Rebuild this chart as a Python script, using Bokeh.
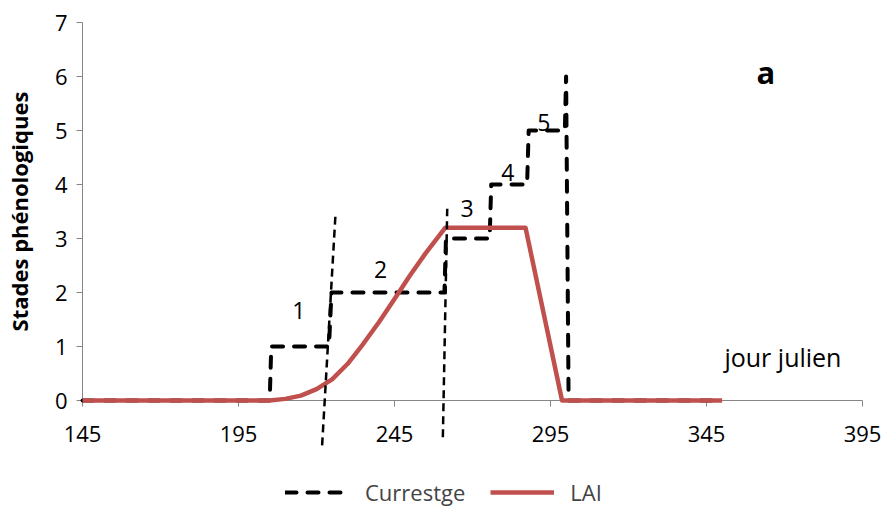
import math
from bokeh.plotting import figure
from bokeh.models import Range1d, Legend, LegendItem, Arrow, FixedTicker, ColumnDataSource
from bokeh.core.properties import value
from bokeh.embed import file_html
from bokeh.resources import INLINE

# ---- data ----
# Currestge (phenological stage, dashed black)
stage_day = [145, 205, 205.5, 224, 224.8, 261, 261.5, 275.5, 276, 287.5, 288, 299.6, 300, 300.8, 350]
stage_val = [0, 0, 1, 1, 2, 2, 3, 3, 4, 4, 5, 5, 6, 0, 0]

# LAI (red)
lai_day = [145, 205, 210, 215, 220, 225, 230, 235, 240, 245, 250, 255, 261.3, 287, 298.7, 350]
lai_val = [0, 0, 0.03, 0.09, 0.21, 0.39, 0.68, 1.05, 1.45, 1.88, 2.32, 2.73, 3.2, 3.2, 0, 0]

# two thin dashed separator lines (start / end points)
sep_x0 = [221.8, 260.5]
sep_y0 = [-0.83, -0.68]
sep_x1 = [226.1, 261.9]
sep_y1 = [3.46, 3.55]

# stage number annotations
num_x = [214.3, 240.5, 268.3, 281.3, 292.9]
num_y = [1.67, 2.42, 3.55, 4.23, 5.15]
num_text = ["1", "2", "3", "4", "5"]

x_ticks = [145, 195, 245, 295, 345, 395]
y_ticks = [0, 1, 2, 3, 4, 5, 6, 7]
x_min, x_max = 145, 395
y_min, y_max = 0, 7

FONT = "Open Sans"
AXIS_COL = "#868686"
RED = "#C0504D"

W, H = 883, 509
PX_X = 780 / (x_max - x_min)      # pixels per day
PX_Y = 378 / (y_max - y_min)      # pixels per stage unit
LEFT, TOP = 82, 22                # where x=145 / y=7 sit in the canvas

# the frame covers the whole canvas; both axes sit at fixed locations so the
# tick labels, the legend and the separator lines are all inside the frame
p = figure(width=W, height=H, frame_width=W, frame_height=H,
           x_range=Range1d(x_min - LEFT / PX_X, x_min + (W - LEFT) / PX_X),
           y_range=Range1d(y_max - (H - TOP) / PX_Y, y_max + TOP / PX_Y),
           output_backend="svg", toolbar_location=None,
           min_border_left=0, min_border_top=0, min_border_right=0,
           min_border_bottom=0)
p.outline_line_color = None
p.xgrid.grid_line_color = None
p.ygrid.grid_line_color = None
p.background_fill_color = "white"
p.border_fill_color = "white"

# axes
p.xaxis.fixed_location = y_min
p.yaxis.fixed_location = x_min
p.xaxis.bounds = (x_min, x_max)
p.yaxis.bounds = (y_min, y_max)
for ax in (p.xaxis, p.yaxis):
    ax.axis_line_color = AXIS_COL
    ax.major_tick_line_color = AXIS_COL
    ax.major_tick_out = 6
    ax.major_tick_in = 0
    ax.minor_tick_line_color = None
    ax.major_label_text_font = FONT
    ax.major_label_text_font_size = "22px"
    ax.major_label_text_color = "black"
    ax.level = "underlay"
p.xaxis.ticker = FixedTicker(ticks=x_ticks)
p.yaxis.ticker = FixedTicker(ticks=y_ticks)
p.xaxis.major_label_standoff = 19
p.yaxis.major_label_standoff = 9

# y axis title (rotated), centred on the 0..7 axis
p.text(x=[x_min - 64 / PX_X], y=[(y_min + y_max) / 2], text=["Stades phénologiques"],
       angle=math.pi / 2, text_font=value(FONT), text_font_size="22px",
       text_font_style="bold", text_align="center", text_baseline="middle",
       text_color="black")

r_stage = p.line(stage_day, stage_val, line_color="black", line_width=4,
                 line_dash="11 11", line_cap="round", line_join="round")
r_lai = p.line(lai_day, lai_val, line_color=RED, line_width=4.5, line_join="round")

for i in range(len(sep_x0)):
    p.add_layout(Arrow(end=None, x_start=sep_x0[i], y_start=sep_y0[i],
                       x_end=sep_x1[i], y_end=sep_y1[i],
                       line_color="black", line_width=2.5, line_dash="8 5"))

src = ColumnDataSource(dict(x=num_x, y=num_y, t=num_text))
p.text(x="x", y="y", text="t", source=src, text_font=value(FONT),
       text_font_size="23px", text_align="center", text_baseline="middle",
       text_color="black")

p.text(x=[369.5], y=[0.80], text=["jour julien"], text_font=value(FONT),
       text_font_size="25px", text_align="center", text_baseline="middle",
       text_color="black")
p.text(x=[364], y=[6.08], text=["a"], text_font=value(FONT),
       text_font_size="31px", text_font_style="bold", text_align="center",
       text_baseline="middle", text_color="black")

legend = Legend(items=[LegendItem(label="Currestge", renderers=[r_stage]),
                       LegendItem(label="LAI", renderers=[r_lai])],
                orientation="horizontal", location=(285, 2),
                padding=0, margin=0, spacing=25, glyph_width=64,
                glyph_height=20, label_standoff=16,
                label_text_font=FONT, label_text_font_size="22px",
                border_line_color=None, background_fill_alpha=0)
p.add_layout(legend, "center")

open("out.html", "w").write(file_html(p, INLINE))
